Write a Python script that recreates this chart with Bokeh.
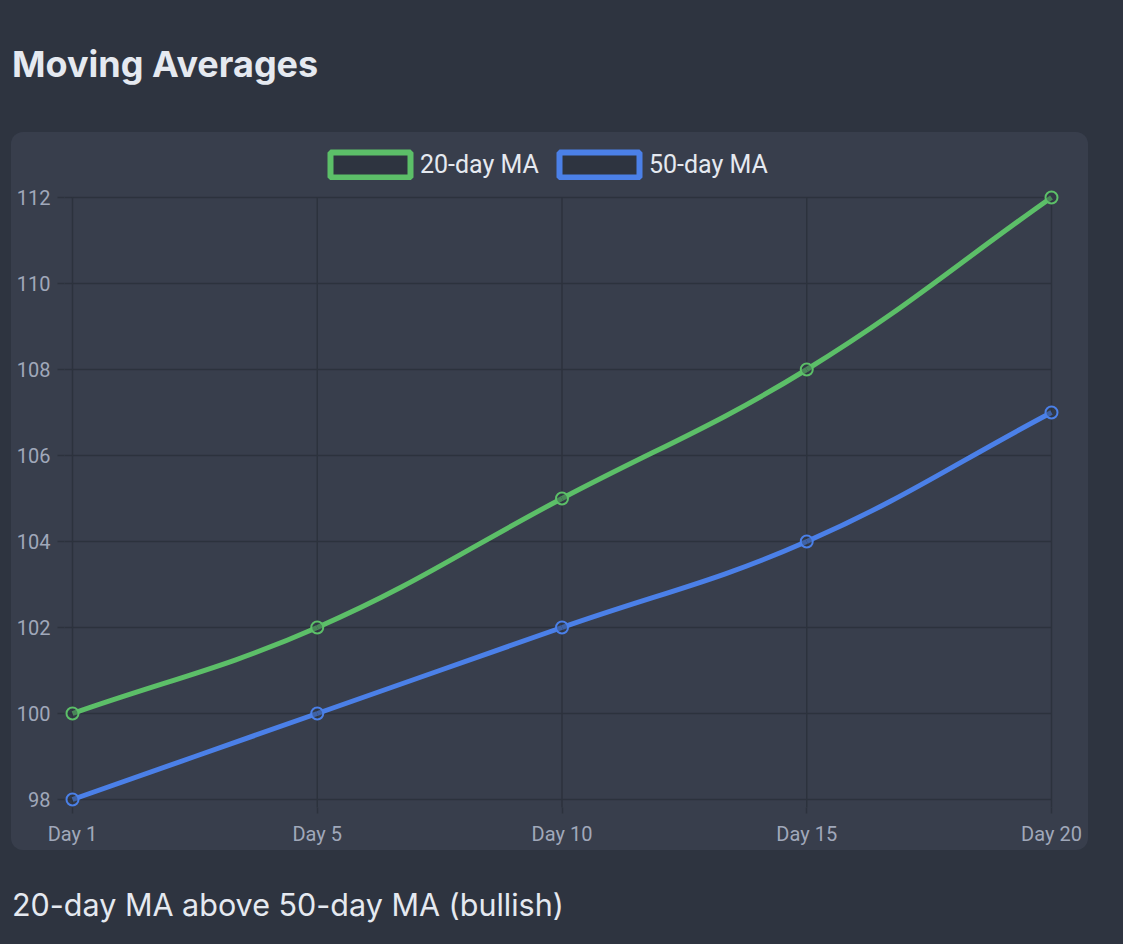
import math
from bokeh.plotting import figure
from bokeh.models import Div, FixedTicker, Legend, LegendItem, ColumnDataSource
from bokeh.layouts import column
from bokeh.embed import file_html
from bokeh.resources import INLINE

# ---- data ----
categories = ["Day 1", "Day 5", "Day 10", "Day 15", "Day 20"]
ma20 = [100, 102, 105, 108, 112]
ma50 = [98, 100, 102, 104, 107]
y_ticks = [98, 100, 102, 104, 106, 108, 110, 112]
series_names = ["20-day MA", "50-day MA"]
series_colors = ["#5cbf68", "#4b80e8"]

PAGE_BG = "#2e3440"
CARD_BG = "#383e4c"
GRID = "#2c323d"
TICK_TXT = "#a0a8ba"
TXT = "#e5e9f0"
FONT = "Inter"
AX_FONT = "Roboto"

# layout (pixels)
W, H = 1077, 718
DATA_W, DATA_H = 979, 602      # span between first/last category and min/max tick
EDGE_L, EDGE_B = 8, 8          # frame room left/below the data area
EDGE_T, EDGE_R = 65, 29        # frame room above/right of the data area (legend lives there)
ML, MR, MT, MB = 53, 8, 0, 43

xs = list(range(len(categories)))
px_x = DATA_W / (len(categories) - 1)
px_y = DATA_H / (max(y_ticks) - min(y_ticks))
x_lo, x_hi = xs[0] - EDGE_L / px_x, xs[-1] + EDGE_R / px_x
y_lo, y_hi = min(y_ticks) - EDGE_B / px_y, max(y_ticks) + EDGE_T / px_y


def spline_segments(xv, yv, t=0.4):
    """Chart.js-style cubic spline (tension 0.4), control points in pixel space."""
    n = len(xv)
    P = [(xv[i] * px_x, yv[i] * px_y) for i in range(n)]
    cps = []
    for i in range(n):
        prev = P[max(i - 1, 0)]
        cur = P[i]
        nxt = P[min(i + 1, n - 1)]
        d01 = math.hypot(cur[0] - prev[0], cur[1] - prev[1])
        d12 = math.hypot(nxt[0] - cur[0], nxt[1] - cur[1])
        tot = d01 + d12
        s01 = d01 / tot if tot else 0
        s12 = d12 / tot if tot else 0
        fa, fb = t * s01, t * s12
        cp_prev = (cur[0] - fa * (nxt[0] - prev[0]), cur[1] - fa * (nxt[1] - prev[1]))
        cp_next = (cur[0] + fb * (nxt[0] - prev[0]), cur[1] + fb * (nxt[1] - prev[1]))
        cps.append((cp_prev, cp_next))
    d = dict(x0=[], y0=[], x1=[], y1=[], cx0=[], cy0=[], cx1=[], cy1=[])
    for i in range(n - 1):
        d["x0"].append(xv[i]); d["y0"].append(yv[i])
        d["x1"].append(xv[i + 1]); d["y1"].append(yv[i + 1])
        d["cx0"].append(cps[i][1][0] / px_x); d["cy0"].append(cps[i][1][1] / px_y)
        d["cx1"].append(cps[i + 1][0][0] / px_x); d["cy1"].append(cps[i + 1][0][1] / px_y)
    return d


p = figure(width=W, height=H, output_backend="svg", toolbar_location=None,
           x_range=(x_lo, x_hi), y_range=(y_lo, y_hi),
           min_border_left=ML, min_border_right=MR, min_border_top=MT, min_border_bottom=MB,
           background_fill_alpha=0, border_fill_alpha=0,
           outline_line_color=None,
           styles={"border-radius": "12px", "overflow": "hidden",
                   "background-color": CARD_BG},
           margin=(0, 0, 0, 11))
p.xgrid.visible = False
p.ygrid.visible = False

for ax in (p.xaxis[0], p.yaxis[0]):
    ax.axis_line_color = None
    ax.major_tick_line_color = GRID
    ax.major_tick_line_width = 1.5
    ax.minor_tick_line_color = None
    ax.major_tick_in = 0
    ax.major_label_text_color = TICK_TXT
    ax.major_label_text_font = AX_FONT
    ax.major_label_text_font_size = "20px"

p.xaxis.ticker = FixedTicker(ticks=xs)
p.xaxis.major_label_overrides = {i: c for i, c in zip(xs, categories)}
p.xaxis.major_tick_out = 6
p.xaxis.major_label_standoff = 8
p.yaxis.ticker = FixedTicker(ticks=y_ticks)
p.yaxis.major_tick_out = 7
p.yaxis.major_label_standoff = 7

# grid lines limited to the data area (joined to the outer tick marks)
p.segment(x0=[x_lo] * len(y_ticks), x1=[xs[-1]] * len(y_ticks), y0=y_ticks, y1=y_ticks,
          line_color=GRID, line_width=1.5)
p.segment(x0=xs, x1=xs, y0=[y_lo] * len(xs), y1=[max(y_ticks)] * len(xs),
          line_color=GRID, line_width=1.5)

nan = float("nan")
items = []
for name, vals, col in zip(series_names, [ma20, ma50], series_colors):
    seg = spline_segments(xs, vals)
    p.bezier(x0="x0", y0="y0", x1="x1", y1="y1", cx0="cx0", cy0="cy0", cx1="cx1", cy1="cy1",
             source=ColumnDataSource(seg), line_color=col, line_width=5)
    p.scatter(xs, vals, size=12, marker="circle", line_color=col, line_width=2,
              fill_color=PAGE_BG, fill_alpha=0.4)
    swatch = p.quad(left=[nan], right=[nan], top=[nan], bottom=[nan], fill_color=PAGE_BG,
                    line_color=col, line_width=6)
    items.append(LegendItem(label=name, renderers=[swatch]))

# legend at the top of the card, centred like Chart.js (glyph box drawn at 80% of its area)
GLYPH_W, GLYPH_H = 100, 31
legend_left = 320 - 11 - ML            # glyph area left, relative to frame left
legend_bottom = (H - MB) - (149 - 132 + GLYPH_H)  # from frame bottom to legend bottom
legend = Legend(items=items, orientation="horizontal",
                location=(legend_left, legend_bottom),
                glyph_width=GLYPH_W, glyph_height=GLYPH_H, label_standoff=0, spacing=10,
                padding=0, margin=0, border_line_color=None, background_fill_alpha=0,
                label_text_color=TXT, label_text_font=AX_FONT, label_text_font_size="25px",
                label_height=GLYPH_H, label_text_baseline="middle")
p.add_layout(legend, "center")

title = Div(text=f'<div style="padding:42px 0 0 12px;font:700 36px {FONT},sans-serif;'
                 f'line-height:44px;color:{TXT};white-space:nowrap">Moving Averages</div>',
            width=1100, height=132, margin=0)
footer = Div(text=f'<div style="padding:37px 0 0 12px;font:400 30.5px {FONT},sans-serif;'
                  f'line-height:36px;color:{TXT};white-space:nowrap">20-day MA above 50-day MA (bullish)</div>',
             width=1100, height=80, margin=0)

layout = column(title, p, footer, spacing=0)
html = file_html(layout, INLINE)
html = html.replace("<html lang=\"en\">", f'<html lang="en" style="background:{PAGE_BG}">', 1)
open("out.html", "w").write(html)
